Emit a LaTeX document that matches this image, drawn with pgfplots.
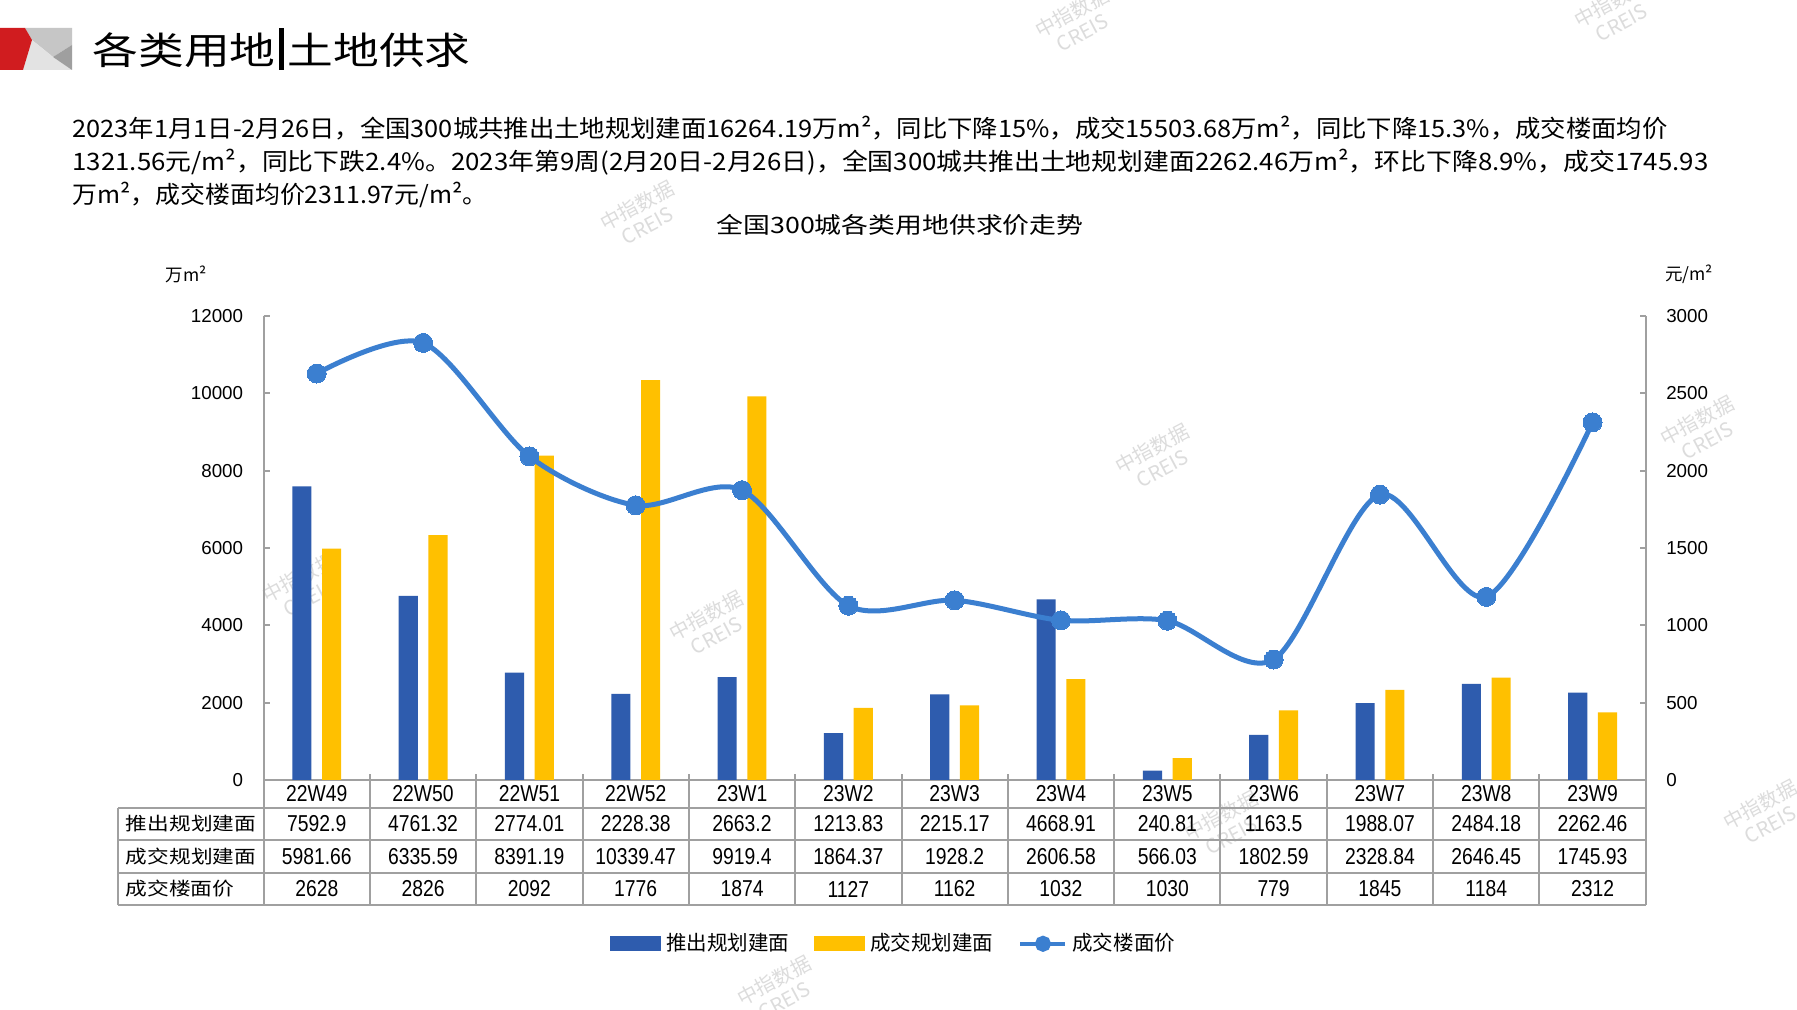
\documentclass[border=0pt]{standalone}
\usepackage{pgfplots}
\usepackage{pgfplotstable}
\pgfplotsset{compat=1.18}
\usepackage{fontspec}
\setmainfont{Liberation Sans}
\newfontfamily\cjk{Noto Sans CJK SC}
\newfontfamily\tnum{Liberation Sans}[FakeStretch=0.84]

\definecolor{barblue}{HTML}{2E5CAE}
\definecolor{baryellow}{HTML}{FFC000}
\definecolor{lineblue}{HTML}{3B7FD0}
\definecolor{gridgray}{HTML}{A0A0A0}
\definecolor{wm}{HTML}{DCDCDC}
\definecolor{logored}{HTML}{D01C1F}

\pgfplotstableread{
x cat push deal price
0 22W49 7592.9 5981.66 2628
1 22W50 4761.32 6335.59 2826
2 22W51 2774.01 8391.19 2092
3 22W52 2228.38 10339.47 1776
4 23W1 2663.2 9919.4 1874
5 23W2 1213.83 1864.37 1127
6 23W3 2215.17 1928.2 1162
7 23W4 4668.91 2606.58 1032
8 23W5 240.81 566.03 1030
9 23W6 1163.5 1802.59 779
10 23W7 1988.07 2328.84 1845
11 23W8 2484.18 2646.45 1184
12 23W9 2262.46 1745.93 2312
}\datatable

\begin{document}
\begin{tikzpicture}[x=0.4pt,y=0.4pt]
\path[use as bounding box, fill=white] (0,0) rectangle (1797,1010);

% watermarks
\foreach \wx/\wy in {1077/988, 1616/998, 642/795, 1157/552, 1702/580, 304/423, 711/385, 1226/185, 1765/196, 779/20} {
  \node[rotate=28, text=wm, font=\cjk\fontsize{8}{9}\selectfont, align=center] at (\wx,\wy) {中指数据\\CREIS};
}

% logo
\fill[gray!45] (25,982) -- (72,982) -- (72,965) -- (53,953) -- (32,970) -- cycle;
\fill[gray!22] (32,970) -- (53,953) -- (72,940) -- (23,940) -- cycle;
\fill[gray!75] (72,965) -- (53,953) -- (72,940) -- cycle;
\fill[logored] (0,982) -- (25,982) -- (32,970) -- (23,940) -- (0,940) -- cycle;

% header title
\node[anchor=west, inner sep=0pt] at (92,961) {\resizebox{151.2pt}{\height}{\cjk\fontsize{15}{15}\selectfont 各类用地\hspace{0.08em}\rule[-0.14em]{0.1em}{1.1em}\hspace{0.08em}土地供求}};

% paragraph
\node[anchor=west, inner sep=0pt] at (72,882) {\resizebox{638pt}{\height}{\cjk\fontsize{9.6}{10}\selectfont 2023年1月1日-2月26日，全国300城共推出土地规划建面16264.19万m²，同比下降15\%，成交15503.68万m²，同比下降15.3\%，成交楼面均价}};
\node[anchor=west, inner sep=0pt] at (72,848) {\resizebox{654.4pt}{\height}{\cjk\fontsize{9.6}{10}\selectfont 1321.56元/m²，同比下跌2.4\%。2023年第9周(2月20日-2月26日)，全国300城共推出土地规划建面2262.46万m²，环比下降8.9\%，成交1745.93}};
\node[anchor=west, inner sep=0pt] at (72,815) {\resizebox{166pt}{\height}{\cjk\fontsize{9.6}{10}\selectfont 万m²，成交楼面均价2311.97元/m²。}};

% chart title
\node[inner sep=0pt] at (900,785) {\resizebox{146.8pt}{\height}{\cjk\fontsize{9}{9}\selectfont 全国300城各类用地供求价走势}};

% unit labels
\node[inner sep=0pt] at (186,736) {\cjk\fontsize{7}{8}\selectfont 万m²};
\node[inner sep=0pt] at (1689,736) {\cjk\fontsize{7}{8}\selectfont 元/m²};

\begin{axis}[
  at={(105.44pt,92pt)}, anchor=south west,
  scale only axis, width=552.84pt, height=185.6pt,
  xmin=-0.5, xmax=12.5, ymin=0, ymax=12000,
  axis x line*=bottom, axis y line*=left,
  axis line style={gridgray, line width=0.8pt},
  xtick={-0.5,0.5,1.5,2.5,3.5,4.5,5.5,6.5,7.5,8.5,9.5,10.5,11.5,12.5},
  xticklabels={},
  ytick={0,2000,4000,6000,8000,10000,12000},
  tick align=inside, major tick length=2.4pt,
  tick style={gridgray, line width=0.8pt},
  scaled y ticks=false,
  yticklabel style={font=\fontsize{7.5}{9}\selectfont, inner xsep=0pt, xshift=-8pt},
  /pgf/number format/.cd, 1000 sep={}, assume math mode=true,
]
\addplot[ybar, bar width=0.18, bar shift=-0.14, fill=barblue, draw=none] table[x=x, y=push] {\datatable};
\addplot[ybar, bar width=0.18, bar shift=0.14, fill=baryellow, draw=none] table[x=x, y=deal] {\datatable};
\end{axis}

\begin{axis}[
  at={(105.44pt,92pt)}, anchor=south west,
  scale only axis, width=552.84pt, height=185.6pt,
  xmin=-0.5, xmax=12.5, ymin=0, ymax=3000,
  axis x line=none, axis y line*=right,
  axis line style={gridgray, line width=0.8pt},
  ytick={0,500,1000,1500,2000,2500,3000},
  tick align=inside, major tick length=2.4pt,
  tick style={gridgray, line width=0.8pt},
  scaled y ticks=false,
  yticklabel style={font=\fontsize{7.5}{9}\selectfont, inner xsep=0pt, xshift=8pt},
  legend columns=3,
  legend style={at={(axis description cs:0.457,-0.353)}, anchor=center, draw=none, fill=none,
    font=\cjk\fontsize{8.2}{10}\selectfont,
    /tikz/every even column/.append style={column sep=8pt},
    /tikz/every odd column/.append style={column sep=0pt}},
  legend cell align=left,
  /pgf/number format/.cd, 1000 sep={}, assume math mode=true,
]
\addlegendimage{legend image code/.code={\fill[barblue] (0pt,-2.8pt) rectangle (20pt,2.8pt);}}
\addlegendentry{推出规划建面}
\addlegendimage{legend image code/.code={\fill[baryellow] (0pt,-2.8pt) rectangle (20pt,2.8pt);}}
\addlegendentry{成交规划建面}
\addplot[lineblue, line width=2pt, smooth, mark=*, mark size=3.8pt,
  mark options={fill=lineblue, draw=lineblue, line width=0pt},
  legend image code/.code={\draw[lineblue, line width=1.6pt] (0pt,0pt) -- (18pt,0pt); \fill[lineblue] (9pt,0pt) circle (2.2pt);}]
  table[x=x, y=price] {\datatable};
\addlegendentry{成交楼面价}
\end{axis}

% data table under the axis
\begin{scope}[gridgray, line width=0.8pt]
\foreach \yy in {202,170,137,105} { \draw (118,\yy) -- (1645.7,\yy); }
\draw (118,202) -- (118,105);
\foreach \k in {0,...,13} {
  \pgfmathsetmacro{\bx}{263.6+106.316*\k}
  \draw (\bx,230) -- (\bx,105);
}
\end{scope}
\node[inner sep=0pt] at (191,186) {\resizebox{52pt}{\height}{\cjk\fontsize{7.3}{8}\selectfont 推出规划建面}};
\node[inner sep=0pt] at (191,153) {\resizebox{52pt}{\height}{\cjk\fontsize{7.3}{8}\selectfont 成交规划建面}};
\node[inner sep=0pt, anchor=west] at (125,121) {\resizebox{43.5pt}{\height}{\cjk\fontsize{7.3}{8}\selectfont 成交楼面价}};
\foreach \i in {0,...,12} {
  \pgfmathsetmacro{\cx}{263.6+106.316*(\i+0.5)}
  \pgfplotstablegetelem{\i}{cat}\of\datatable \let\vcat\pgfplotsretval
  \pgfplotstablegetelem{\i}{push}\of\datatable \let\vpush\pgfplotsretval
  \pgfplotstablegetelem{\i}{deal}\of\datatable \let\vdeal\pgfplotsretval
  \pgfplotstablegetelem{\i}{price}\of\datatable \let\vprice\pgfplotsretval
  \node[inner sep=0pt, font=\tnum\fontsize{9.2}{10}\selectfont] at (\cx,216) {\vcat};
  \node[inner sep=0pt, font=\tnum\fontsize{9.2}{10}\selectfont] at (\cx,186) {\vpush};
  \node[inner sep=0pt, font=\tnum\fontsize{9.2}{10}\selectfont] at (\cx,153) {\vdeal};
  \node[inner sep=0pt, font=\tnum\fontsize{9.2}{10}\selectfont] at (\cx,121) {\vprice};
}
\end{tikzpicture}
\end{document}
